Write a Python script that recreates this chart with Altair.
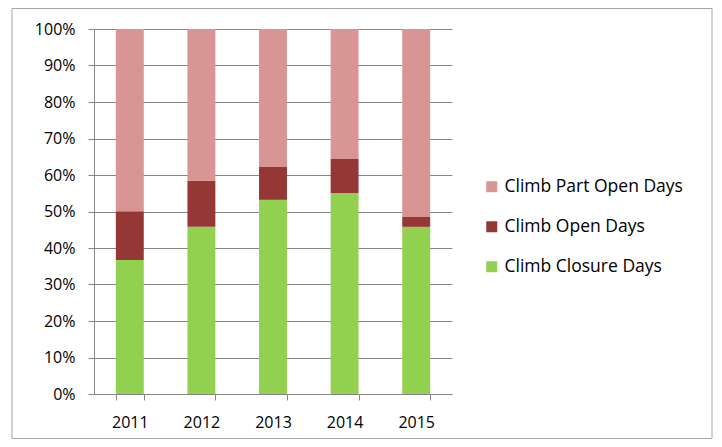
import altair as alt
import pandas as pd

years = ["2011", "2012", "2013", "2014", "2015"]
closure = [36.7, 45.8, 53.2, 55.1, 45.8]
open_days = [13.4, 12.6, 9.0, 9.3, 2.7]
part_open = [49.9, 41.6, 37.8, 35.6, 51.5]

series = ["Climb Part Open Days", "Climb Open Days", "Climb Closure Days"]
colors = ["#D99594", "#953735", "#92D050"]
stack_rank = {"Climb Closure Days": 0, "Climb Open Days": 1, "Climb Part Open Days": 2}

rows = []
for i, y in enumerate(years):
    for name, vals in [("Climb Closure Days", closure), ("Climb Open Days", open_days),
                       ("Climb Part Open Days", part_open)]:
        rows.append({"year": y, "series": name, "value": vals[i] / 100.0, "rank": stack_rank[name]})
df = pd.DataFrame(rows)

FONT = "Open Sans"
W, H = 358, 365

bars = alt.Chart(df).mark_bar().encode(
    x=alt.X("year:N", title=None,
            scale=alt.Scale(paddingInner=0.61, paddingOuter=0.305),
            axis=alt.Axis(labelAngle=0, tickBand="extent", tickSize=6, labelPadding=14,
                          domainColor="#868686", tickColor="#868686",
                          labelFont=FONT, labelFontSize=16, labelColor="#000000")),
    y=alt.Y("value:Q", title=None, stack="zero",
            scale=alt.Scale(domain=[0, 1], nice=False),
            axis=alt.Axis(format=".0%", values=[i / 10 for i in range(11)], tickSize=6,
                          labelPadding=13, domainColor="#868686", tickColor="#868686",
                          gridColor="#868686", gridOpacity=1, grid=True,
                          labelFont=FONT, labelFontSize=16, labelColor="#000000")),
    color=alt.Color("series:N", scale=alt.Scale(domain=series, range=colors),
                    legend=alt.Legend(title=None, orient="none", legendX=389, legendY=149,
                                      symbolType="square", symbolSize=121, symbolStrokeWidth=0,
                                      labelFont=FONT, labelFontSize=17.5, labelColor="#000000",
                                      labelLimit=400,
                                      rowPadding=21, labelOffset=4, padding=0)),
    order=alt.Order("rank:Q", sort="ascending"),
)

border = alt.Chart(pd.DataFrame({"a": [0]})).mark_rect(
    fill=None, stroke="#A6A6A6", strokeWidth=1
).encode(x=alt.value(-82), x2=alt.value(618), y=alt.value(-20.5), y2=alt.value(409.5))

chart = alt.layer(bars, border).properties(
    width=W, height=H,
    autosize=alt.AutoSizeParams(type="none"),
    padding={"left": 86, "top": 21, "right": 262, "bottom": 45},
).configure_view(stroke=None)

chart.save("out.html", embed_options={"renderer": "svg", "actions": False})
